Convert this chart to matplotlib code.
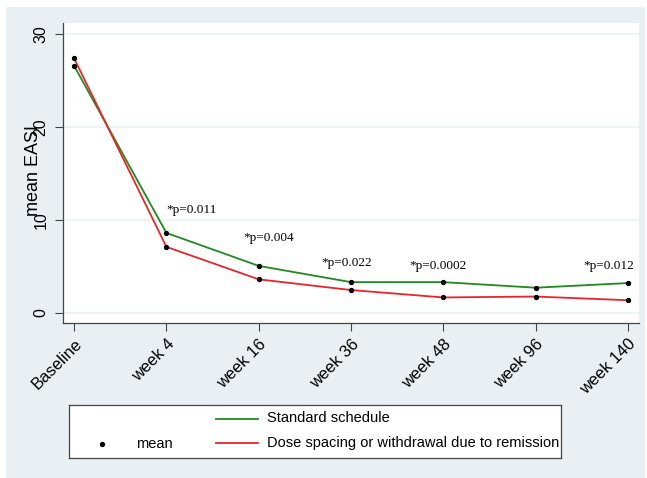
import matplotlib
matplotlib.use("Agg")
import matplotlib.pyplot as plt
from matplotlib.patches import Rectangle

categories = ["Baseline", "week 4", "week 16", "week 36", "week 48", "week 96", "week 140"]
standard = [26.6, 8.6, 5.05, 3.3, 3.3, 2.7, 3.2]
spacing = [27.4, 7.1, 3.6, 2.45, 1.65, 1.75, 1.35]
yticks = [0, 10, 20, 30]
annotations = ["*p=0.011", "*p=0.004", "*p=0.022", "*p=0.0002", "*p=0.012"]
ann_x = [1.0, 1.83, 2.68, 3.63, 5.52]
ann_y = [11.1, 8.1, 5.4, 5.05, 5.05]

W, H = 647, 478
GREEN = "#1f8a1f"
RED = "#e8242b"
BG = "#e9eff2"
GRID = "#eaf2f3"

fig = plt.figure(figsize=(W / 100, H / 100), dpi=100)
fig.patch.set_facecolor("white")
fig.add_artist(Rectangle((6 / W, 0), (645 - 6) / W, (H - 7) / H,
                         transform=fig.transFigure, facecolor=BG, edgecolor="none", zorder=0))

ax = fig.add_axes([63 / W, (H - 323) / H, (639 - 63) / W, (323 - 23) / H])
ax.set_facecolor("white")
x = list(range(len(categories)))
ax.plot(x, standard, color=GREEN, lw=1.3, zorder=3)
ax.plot(x, spacing, color=RED, lw=1.3, zorder=3)
ax.scatter(x, standard, s=8, color="black", zorder=4)
ax.scatter(x, spacing, s=8, color="black", zorder=4)

for t, xx, yy in zip(annotations, ann_x, ann_y):
    ax.text(xx, yy, t, fontsize=9.5, family="Liberation Serif", ha="left", va="center")

ax.set_xlim(-0.12, 6.12)
ax.set_ylim(-1.1, 31.2)
ax.set_yticks(yticks)
ax.set_yticklabels([str(v) for v in yticks], rotation=90, va="center",
                   family="Liberation Sans", fontsize=11.5)
ax.set_xticks(x)
ax.set_xticklabels(categories, rotation=45, ha="right", rotation_mode="anchor",
                   family="Liberation Sans", fontsize=12)
ax.tick_params(axis="both", length=6, width=0.8, color="#444444")
ax.tick_params(axis="y", pad=4.5)
ax.grid(axis="y", color=GRID, lw=1.2)
ax.set_axisbelow(True)
for s in ["top", "right"]:
    ax.spines[s].set_visible(False)
for s in ["left", "bottom"]:
    ax.spines[s].set_color("#444444")
    ax.spines[s].set_linewidth(0.9)

fig.text(34 / W, 1 - 170 / H, "mean EASI", rotation=90, ha="center", va="center",
         family="Liberation Sans", fontsize=13)

# legend box
lg = fig.add_axes([69 / W, (H - 458) / H, (561 - 69) / W, (458 - 405) / H])
lg.set_facecolor("white")
lg.set_xlim(0, 1)
lg.set_ylim(0, 1)
lg.set_xticks([])
lg.set_yticks([])
for s in lg.spines.values():
    s.set_color("#444444")
    s.set_linewidth(0.9)
lg.scatter([0.067], [0.27], s=8, color="black")
lg.text(0.136, 0.27, "mean", ha="left", va="center", family="Liberation Sans", fontsize=10.5)
lg.plot([0.299, 0.384], [0.74, 0.74], color=GREEN, lw=1.3)
lg.plot([0.299, 0.384], [0.28, 0.28], color=RED, lw=1.3)
lg.text(0.402, 0.76, "Standard schedule", ha="left", va="center", family="Liberation Sans", fontsize=10.5)
lg.text(0.402, 0.29, "Dose spacing or withdrawal due to remission", ha="left", va="center",
        family="Liberation Sans", fontsize=10.5)

fig.savefig("out.png", dpi=100, facecolor=fig.get_facecolor())
